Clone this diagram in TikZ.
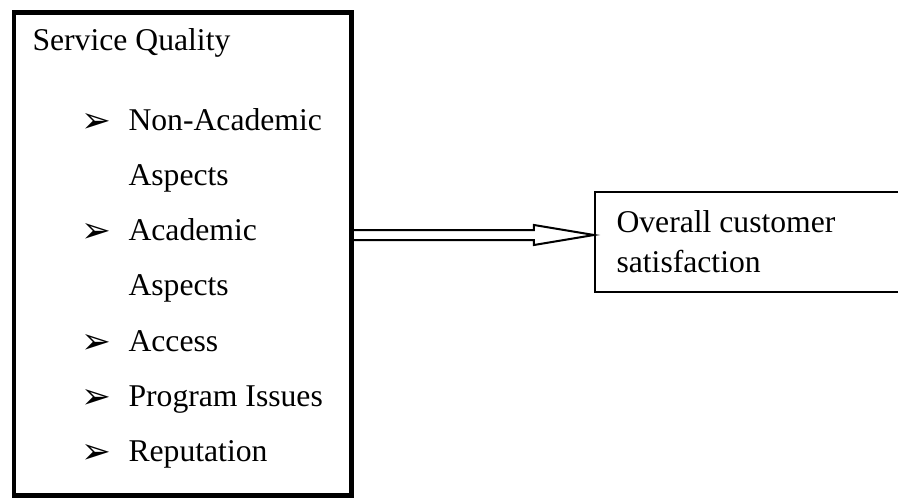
\documentclass[tikz,border=0pt]{standalone}
\usepackage{fontspec}
\setmainfont{Liberation Serif}
\newfontfamily\dingfont{DejaVu Sans}
\usetikzlibrary{positioning, calc}

\begin{document}
\begin{tikzpicture}[
    x=0.379pt, y=-0.379pt,
    font={\fontsize{12}{14}\selectfont},
    outerbox/.style={draw, rectangle, line width=1.7pt, minimum width=127.9pt, minimum height=183.1pt, inner sep=0pt},
    resultbox/.style={draw, rectangle, line width=0.76pt, minimum width=119.4pt, minimum height=37.9pt, inner sep=0pt},
    itemtext/.style={anchor=base west, inner sep=0pt},
    markbullet/.style={anchor=base west, inner sep=0pt, font={\dingfont\fontsize{13.5}{13.5}\selectfont}},
    hollow/.style={draw, line width=0.76pt}
]
\clip (0,0) rectangle (898,498);

% 1. Linker Block (Service Quality)
\node[outerbox] (quality) at (182.75,254) {};
\node[itemtext] (title) at (32,50) {Service Quality};

% Aufzaehlung mit festem Zeilenabstand
\foreach \txt/\hasmark [count=\k from 0] in {Non-Academic/1, Aspects/0, Academic/1, Aspects/0, Access/1, Program Issues/1, Reputation/1} {
    \pgfmathsetmacro{\yb}{130+55.3*\k}
    \node[itemtext] (item\k) at (128,\yb) {\txt};
    \ifnum\hasmark=1
        \node[markbullet] (mark\k) at (81,\yb+2) {➢};
    \fi
}

% 2. Rechter Block (Ergebnis)
\node[resultbox] (outcome) at (752.5,242) {};
\node[itemtext] (outcomeA) at (616,232) {Overall customer};
\node[itemtext] (outcomeB) at (616,272) {satisfaction};

% 3. Hohlpfeil dazwischen
\coordinate (tail) at (quality.east |- 0,235);
\coordinate (tip)  at (outcome.west |- tail);
\draw[hollow] ($(tail)+(0,-5)$) -- ($(tip)+(-60,-5)$) -- ($(tip)+(-60,-10)$) -- (tip)
    -- ($(tip)+(-60,10)$) -- ($(tip)+(-60,5)$) -- ($(tail)+(0,5)$);

\end{tikzpicture}
\end{document}
